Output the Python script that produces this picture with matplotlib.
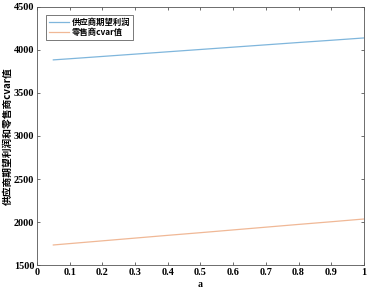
import matplotlib
matplotlib.use('Agg')
import matplotlib.pyplot as plt
import numpy as np

# data
a = [0.05, 0.1, 0.2, 0.3, 0.4, 0.5, 0.6, 0.7, 0.8, 0.9, 1.0]
supplier_profit = [3885, 3898, 3925, 3952, 3979, 4006, 4033, 4060, 4087, 4113, 4140]
retailer_cvar = [1733, 1749, 1781, 1813, 1845, 1876, 1908, 1940, 1972, 2003, 2035]

xticks = [0, 0.1, 0.2, 0.3, 0.4, 0.5, 0.6, 0.7, 0.8, 0.9, 1]
xticklabels = ['0', '0.1', '0.2', '0.3', '0.4', '0.5', '0.6', '0.7', '0.8', '0.9', '1']
yticks = [1500, 2000, 2500, 3000, 3500, 4000, 4500]

cjk = ['Noto Sans CJK SC', 'DejaVu Sans']

fig = plt.figure(figsize=(3.68, 2.91), dpi=100)
ax = fig.add_axes([0.1005, 0.0893, 0.8885, 0.8867])

ax.plot(a, supplier_profit, color='#7fb6dc', lw=0.9, label='供应商期望利润')
ax.plot(a, retailer_cvar, color='#f0b896', lw=0.9, label='零售商cvar值')

ax.set_xlim(0, 1)
ax.set_ylim(1500, 4500)
ax.set_xticks(xticks)
ax.set_xticklabels(xticklabels)
ax.set_yticks(yticks)

for lab in ax.get_xticklabels() + ax.get_yticklabels():
    lab.set_family('Liberation Serif')
    lab.set_fontweight('bold')
    lab.set_fontsize(7.3)

ax.tick_params(direction='in', length=2.5, width=0.5, color='#333333', pad=2,
               top=True, right=True)
for s in ax.spines.values():
    s.set_color('#555555')
    s.set_linewidth(0.6)

ax.set_xlabel('a', family='Liberation Serif', fontweight='bold', fontsize=7, labelpad=2)
ax.set_ylabel('供应商期望利润和零售商cvar值', family=cjk, fontweight='bold', fontsize=7, labelpad=1)

leg = ax.legend(loc='upper left', prop={'family': cjk, 'size': 6, 'weight': 'bold'},
                fancybox=False, edgecolor='#444444', framealpha=1,
                handlelength=2.4, handletextpad=0.4, borderpad=0.3, labelspacing=0.2,
                bbox_to_anchor=(0.015, 0.985))
leg.get_frame().set_linewidth(0.5)

fig.savefig('out.png', dpi=100)
